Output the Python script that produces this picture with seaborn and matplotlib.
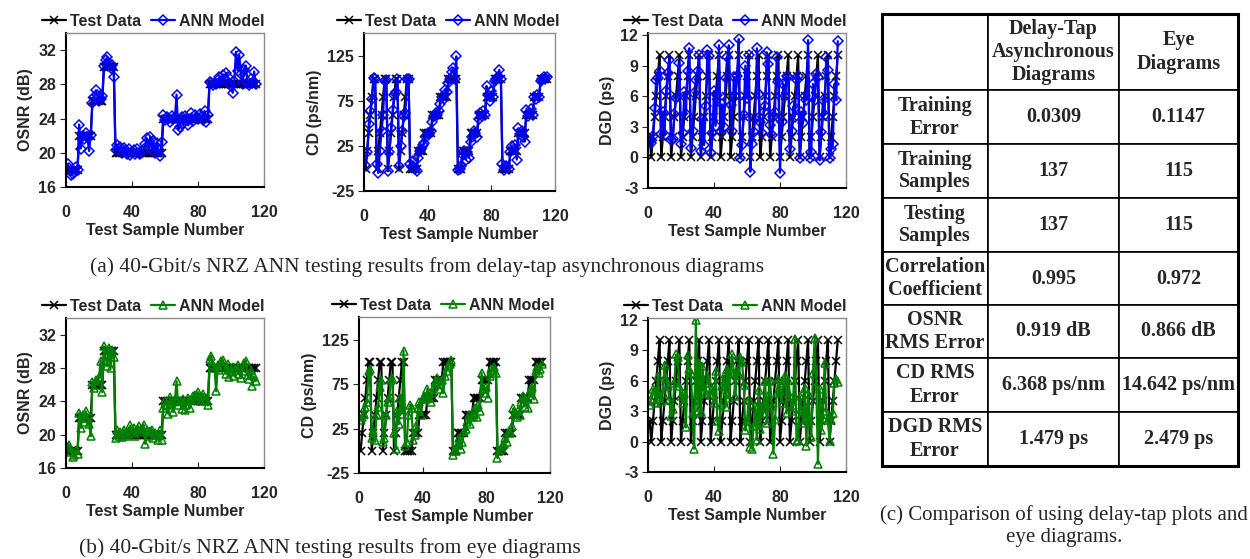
import numpy as np
import pandas as pd
import matplotlib
matplotlib.use("Agg")
import matplotlib.pyplot as plt
from matplotlib.patches import Rectangle
import seaborn as sns

# ---- data (sample index 1..115) ----
osnr_test = [18, 18, 18, 18, 18, 18, 18,
             22, 22, 22, 22, 22, 22, 22, 22,
             26, 26, 26, 26, 26, 26, 26,
             30, 30, 30, 30, 30, 30, 30,
             20, 20, 20, 20, 20, 20, 20, 20, 20, 20, 20, 20, 20, 20, 20,
             20, 20, 20, 20, 20, 20, 20, 20, 20, 20, 20, 20, 20, 20,
             24, 24, 24, 24, 24, 24, 24, 24, 24, 24, 24, 24, 24, 24,
             24, 24, 24, 24, 24, 24, 24, 24, 24, 24, 24, 24, 24, 24,
             28, 28, 28, 28, 28, 28, 28, 28, 28, 28, 28, 28, 28, 28, 28,
             28, 28, 28, 28, 28, 28, 28, 28, 28, 28, 28, 28, 28, 28]

osnr_delay_tap = [18.7, 18.2, 17.4, 17.5, 17.8, 18.3, 18.0,
                  23.3, 20.5, 22.0, 21.6, 22.3, 21.8, 20.2, 22.1,
                  25.8, 26.5, 27.3, 26.8, 26.0, 26.3, 26.6,
                  30.2, 30.8, 31.2, 30.4, 29.9, 30.3, 28.9,
                  20.3, 20.9, 20.5, 20.7, 20.0, 20.6, 20.2, 19.9, 20.4, 19.7,
                  20.1, 20.3, 19.9, 20.5, 20.0, 19.8, 20.2, 20.4, 21.0, 21.7,
                  20.6, 21.9, 20.3, 21.4, 20.0, 21.2, 20.4, 19.6, 21.3,
                  24.4, 23.8, 24.2, 24.0, 23.6, 24.3, 23.9, 24.1, 26.8, 22.7,
                  23.0, 24.2, 23.5, 24.3, 23.8, 23.2, 24.0, 24.6, 23.7, 24.4,
                  24.1, 23.9, 24.5, 24.2, 23.8, 24.9, 23.6, 24.4,
                  28.3, 28.1, 27.9, 28.2, 28.0, 28.5, 28.8, 28.4, 29.1, 28.6,
                  29.3, 28.9, 28.2, 27.8, 27.0, 28.4, 31.8, 29.6, 31.4, 29.2,
                  28.0, 29.7, 30.2, 28.3, 27.9, 28.6, 28.1, 29.5, 28.0]

osnr_eye = [18.5, 18.8, 17.9, 17.3, 17.6, 18.1, 17.7,
            22.6, 20.8, 22.4, 21.5, 22.8, 22.0, 21.3, 19.8,
            26.3, 25.6, 26.6, 26.0, 26.9, 28.9, 25.1,
            30.6, 29.4, 28.2, 30.4, 28.0, 30.2, 29.3,
            19.6, 20.5, 19.9, 20.3, 19.7, 20.6, 20.1, 19.8, 20.4, 21.1,
            20.2, 20.8, 19.9, 20.6, 21.0, 20.3, 20.7, 21.2, 18.9, 20.5,
            19.8, 20.4, 20.6, 19.6, 20.2, 20.0, 19.3, 20.5, 19.4,
            23.2, 24.0, 23.6, 22.5, 24.5, 23.8, 22.7, 24.2, 26.4, 23.5,
            24.0, 23.1, 24.3, 23.0, 23.6, 24.4, 23.2, 24.1, 24.6, 24.8,
            24.3, 25.1, 24.5, 24.0, 24.9, 24.2, 24.4, 23.5,
            29.1, 29.5, 28.3, 28.0, 25.2, 28.4, 27.8, 28.8, 29.0, 28.2,
            27.3, 28.5, 26.9, 27.6, 28.1, 27.0, 27.8, 28.4, 27.3, 26.8,
            27.7, 28.6, 28.9, 27.1, 26.7, 27.8, 25.9, 27.0, 26.4]

cd_test = [0, 20, 40, 60, 80, 100, 100,
           0, 20, 40, 60, 80, 100, 100,
           0, 20, 40, 60, 80, 100, 100,
           0, 20, 40, 60, 80, 100, 100,
           0, 0, 0, 0, 0, 20, 20, 20, 20,
           40, 40, 40, 40, 40, 60, 60, 60, 60, 60,
           80, 80, 80, 80, 80, 100, 100, 100, 100, 100, 100,
           0, 0, 0, 20, 20, 20, 20, 20, 40, 40, 40, 40, 40,
           60, 60, 60, 60, 60, 80, 80, 80, 80, 80, 100, 100, 100, 100, 100,
           0, 0, 0, 0, 0, 20, 20, 20, 20, 20, 40, 40, 40, 40, 40,
           60, 60, 60, 60, 60, 80, 80, 80, 80, 100, 100, 100, 100, 100]

cd_delay_tap = [3, 18, 50, 64, 78, 101, 100,
                5, -5, 20, 42, 60, 98, 99,
                -3, 18, 45, 65, 82, 85, 100,
                3, 25, 42, 58, 62, 100, 100,
                5, 2, 8, 0, -3, 12, 20, 22, 26,
                28, 35, 40, 38, 42, 52, 58, 62, 60, 64,
                72, 80, 78, 88, 85, 95, 100, 108, 112, 100, 125,
                -2, 0, 3, 15, 20, 10, 18, 12, 30, 35, 42, 40, 35,
                55, 62, 58, 64, 60, 92, 82, 75, 86, 80, 98, 100, 102, 110, 100,
                5, -2, 3, 2, 0, 18, 25, 22, 26, 10, 45, 38, 42, 35, 30,
                65, 58, 62, 66, 60, 80, 78, 82, 80, 98, 100, 102, 100, 102]

cd_eye = [35, 38, 42, 50, 55, 90, 92,
          15, 22, 12, 40, 50, 72, 80,
          10, 15, 40, 55, 60, 80, 82,
          20, 2, 45, 30, 60, 42, 113,
          5, 10, 40, 52, 48, 12, 18, 28, 48,
          55, 40, 58, 62, 58, 70, 60, 55, 65, 72,
          78, 82, 70, 75, 80, 65, 85, 90, 96, 98, 102,
          -5, 2, 0, 8, 15, 2, 10, 22, 25, 32, 40, 30, 38,
          40, 48, 38, 52, 45, 88, 70, 65, 72, 60, 85, 92, 90, 95, 88,
          -8, 0, 2, 5, 8, 15, 10, 22, 20, 28, 48, 42, 38, 45, 40,
          55, 62, 50, 58, 48, 65, 70, 72, 58, 90, 95, 88, 92, 98]

dgd_test = [2,
            0, 2, 4, 6, 8, 10, 0, 2, 4, 6, 8, 10, 0, 2, 4, 6, 8, 10,
            0, 2, 4, 6, 8, 10, 0, 2, 4, 6, 8, 10, 0, 2, 4, 6, 8, 10,
            0, 2, 4, 6, 8, 10, 0, 2, 4, 6, 8, 10, 0, 2, 4, 6, 8, 10,
            0, 2, 4, 6, 8, 10, 0, 2, 4, 6, 8, 10, 0, 2, 4, 6, 8, 10,
            0, 2, 4, 6, 8, 10, 0, 2, 4, 6, 8, 10, 0, 2, 4, 6, 8, 10,
            0, 2, 4, 6, 8, 10, 0, 2, 4, 6, 8, 10, 0, 2, 4, 6, 8, 10,
            0, 2, 4, 6, 8, 10]

dgd_delay_tap = [1.6,
                 1.4, 2.1, 4.8, 7.6, 7.8, 8.5, 2.3, 4.5, 2.2, 6.5, 8.3, 9.6,
                 1.7, 1.8, 4.3, 5.8, 6.0, 9.3, 1.3, 2.4, 6.4, 4.3, 8.5, 10.7,
                 0.9, 2.6, 6.3, 7.6, 8.5, 10.0, 0.6, 3.8, 1.2, 5.0, 10.5, 9.9,
                 0.4, 2.4, 6.5, 3.1, 6.1, 11.0, 2.5, 5.2, 3.0, 7.8, 9.8, 11.0,
                 5.1, 2.6, 7.9, 6.0, 8.0, 11.6, -0.1, 1.2, 4.2, 9.0, 5.8, 10.0,
                 -1.4, 1.3, 2.5, 3.8, 10.7, 6.2, 3.5, 2.4, 4.5, 5.0, 10.3, 9.2,
                 3.2, 2.2, 4.0, 4.5, 9.8, 7.4, -1.5, 3.5, 7.2, 6.0, 8.0, 7.9,
                 0.8, 2.6, 5.0, 4.0, 7.6, 8.0, -0.1, 4.5, 3.4, 6.0, 5.6, 11.5,
                 -0.1, 0.5, 7.2, 5.6, 8.2, 7.9, -0.3, 2.5, 5.6, 4.2, 9.8, 8.6,
                 -0.1, 0.8, 1.3, 7.2, 5.6, 11.4]

dgd_eye = [3.6,
           4.2, 5.2, 5.0, 3.8, 6.5, 4.5, 3.9, 4.8, 7.6, 6.2, 5.5, 4.1,
           2.5, 3.2, 5.8, 8.6, 8.4, 5.5, 4.5, 3.8, 4.8, 1.4, 8.5, 7.2,
           6.8, 2.8, -0.7, 12.0, 3.0, 7.8, 2.9, 7.5, 5.0, 4.8, 6.5, 5.8,
           4.6, 5.2, 3.8, 7.0, 2.0, 1.0, 3.6, 5.5, 6.5, 3.4, 7.2, 4.3,
           6.9, 8.6, 6.8, 4.5, 7.0, 6.6, 8.4, 7.9, 5.6, 1.1, 2.0, 4.1,
           -0.5, -0.7, 1.5, 3.5, 0.2, 5.1, 1.2, 3.5, 2.8, 6.0, 1.8, 4.5,
           6.0, 3.5, -1.2, 2.2, 4.8, 6.2, 5.0, 3.8, 5.8, 6.5, 2.8, 6.1,
           4.5, 3.0, 3.6, 10.1, 0.1, 0.2, 4.5, 3.2, 1.8, 5.3, -0.4, 4.8,
           2.1, 0.5, 6.8, 10.2, 5.5, -2.2, 5.2, 1.1, 2.3, 7.8, 3.0, 2.1,
           0.1, 2.1, 2.8, 5.8, 6.2, 5.9]

row_labels = ["Training\nError", "Training\nSamples", "Testing\nSamples",
              "Correlation\nCoefficient", "OSNR\nRMS Error", "CD RMS\nError",
              "DGD RMS\nError"]
col_labels = ["", "Delay-Tap\nAsynchronous\nDiagrams", "Eye\nDiagrams"]
delay_tap_stats = ["0.0309", "137", "137", "0.995", "0.919 dB",
                   "6.368 ps/nm", "1.479 ps"]
eye_stats = ["0.1147", "115", "115", "0.972", "0.866 dB",
             "14.642 ps/nm", "2.479 ps"]

sample_no = np.arange(1, len(osnr_test) + 1)

sns.set_style("ticks")
plt.rcParams["font.family"] = ["Liberation Sans", "DejaVu Sans"]
plt.rcParams["font.weight"] = "bold"
plt.rcParams["axes.labelweight"] = "bold"
plt.rcParams["axes.unicode_minus"] = False

W, H = 1250, 559
fig = plt.figure(figsize=(12.5, 5.59), dpi=100)


def px_axes(left, right, top, bottom):
    return fig.add_axes([left / W, (H - bottom) / H, (right - left) / W, (bottom - top) / H])


panels = [
    # (box, test, model, ylabel, ylim, yticks, colour, marker)
    ((66, 264, 33, 187), osnr_test, osnr_delay_tap, "OSNR (dB)", (16, 34), [16, 20, 24, 28, 32], "blue", "D"),
    ((364, 555, 33, 191), cd_test, cd_delay_tap, "CD (ps/nm)", (-25, 151), [-25, 25, 75, 125], "blue", "D"),
    ((648, 846, 33, 188), dgd_test, dgd_delay_tap, "DGD (ps)", (-3, 12.2), [-3, 0, 3, 6, 9, 12], "blue", "D"),
    ((66, 264, 318, 468), osnr_test, osnr_eye, "OSNR (dB)", (16, 34), [16, 20, 24, 28, 32], "green", "^"),
    ((359, 550, 317, 473), cd_test, cd_eye, "CD (ps/nm)", (-25, 151), [-25, 25, 75, 125], "green", "^"),
    ((648, 846, 318, 472), dgd_test, dgd_eye, "DGD (ps)", (-3, 12.2), [-3, 0, 3, 6, 9, 12], "green", "^"),
]

for box, test, model, ylabel, ylim, yticks, colour, mk in panels:
    ax = px_axes(*box)
    df = pd.DataFrame({"sample": sample_no, "test": test, "model": model})
    sns.lineplot(data=df, x="sample", y="test", ax=ax, color="black", sort=False,
                 errorbar=None, marker="x", markersize=6, markeredgecolor="black",
                 markeredgewidth=1.1, linewidth=1.6, label="Test Data")
    sns.lineplot(data=df, x="sample", y="model", ax=ax, color=colour, sort=False,
                 errorbar=None, marker=mk, markersize=5.5, markerfacecolor="none",
                 markeredgecolor=colour, markeredgewidth=1.1, linewidth=1.6,
                 label="ANN Model")
    ax.set_xlim(0, 120)
    ax.set_xticks([0, 40, 80, 120])
    ax.set_ylim(*ylim)
    ax.set_yticks(yticks)
    ax.set_xlabel("Test Sample Number", fontsize=11.5, fontweight="bold", labelpad=2)
    ax.set_ylabel(ylabel, fontsize=11.5, fontweight="bold", labelpad=4)
    ax.tick_params(axis="x", direction="in", length=4, labelsize=11.5, pad=13)
    ax.tick_params(axis="y", direction="out", length=4, labelsize=11.5, pad=3)
    for lab in ax.get_xticklabels() + ax.get_yticklabels():
        lab.set_fontweight("bold")
    for side in ["left", "bottom"]:
        ax.spines[side].set_color("black")
        ax.spines[side].set_linewidth(1.5)
    for side in ["top", "right"]:
        ax.spines[side].set_color("#8c8c8c")
        ax.spines[side].set_linewidth(1.0)
    ax.legend(loc="lower center", bbox_to_anchor=(0.44, 1.0), ncol=2, frameon=False,
              prop={"weight": "bold", "size": 11.5}, handlelength=1.5,
              handletextpad=0.25, columnspacing=0.6, borderaxespad=0.15,
              borderpad=0.1)

serif = ["Liberation Serif", "DejaVu Serif"]
fig.text(427 / W, 1 - 267 / H, "(a) 40-Gbit/s NRZ ANN testing results from delay-tap asynchronous diagrams",
         ha="center", va="center", fontsize=15.5, family=serif, fontweight="normal")
fig.text(330 / W, 1 - 548 / H, "(b) 40-Gbit/s NRZ ANN testing results from eye diagrams",
         ha="center", va="center", fontsize=15.5, family=serif, fontweight="normal")
fig.text(1064 / W, 1 - 526 / H, "(c) Comparison of using delay-tap plots and\neye diagrams.",
         ha="center", va="center", fontsize=15, family=serif, fontweight="normal",
         linespacing=1.25)

# ---- comparison table ----
tax = px_axes(882, 1238, 14, 466)
tax.set_axis_off()
cell_text = [[r, a, b] for r, a, b in zip(row_labels, delay_tap_stats, eye_stats)]
tbl = tax.table(cellText=cell_text, colLabels=col_labels, cellLoc="center",
                colWidths=[106, 131, 119], bbox=[0, 0, 1, 1])
tbl.auto_set_font_size(False)
row_heights = [76, 54, 54, 54, 53, 53, 54, 54]
for (r, c), cell in tbl.get_celld().items():
    cell.set_height(row_heights[r])
    cell.set_linewidth(1.2)
    cell.set_edgecolor("black")
    cell.get_text().set_fontsize(14.5)
    cell.get_text().set_family(serif)
    cell.get_text().set_fontweight("bold")
    cell.get_text().set_linespacing(1.2)
tax.add_patch(Rectangle((0, 0), 1, 1, transform=tax.transAxes, fill=False,
                        edgecolor="black", linewidth=2.2, clip_on=False))

fig.savefig("out.png", dpi=100)
